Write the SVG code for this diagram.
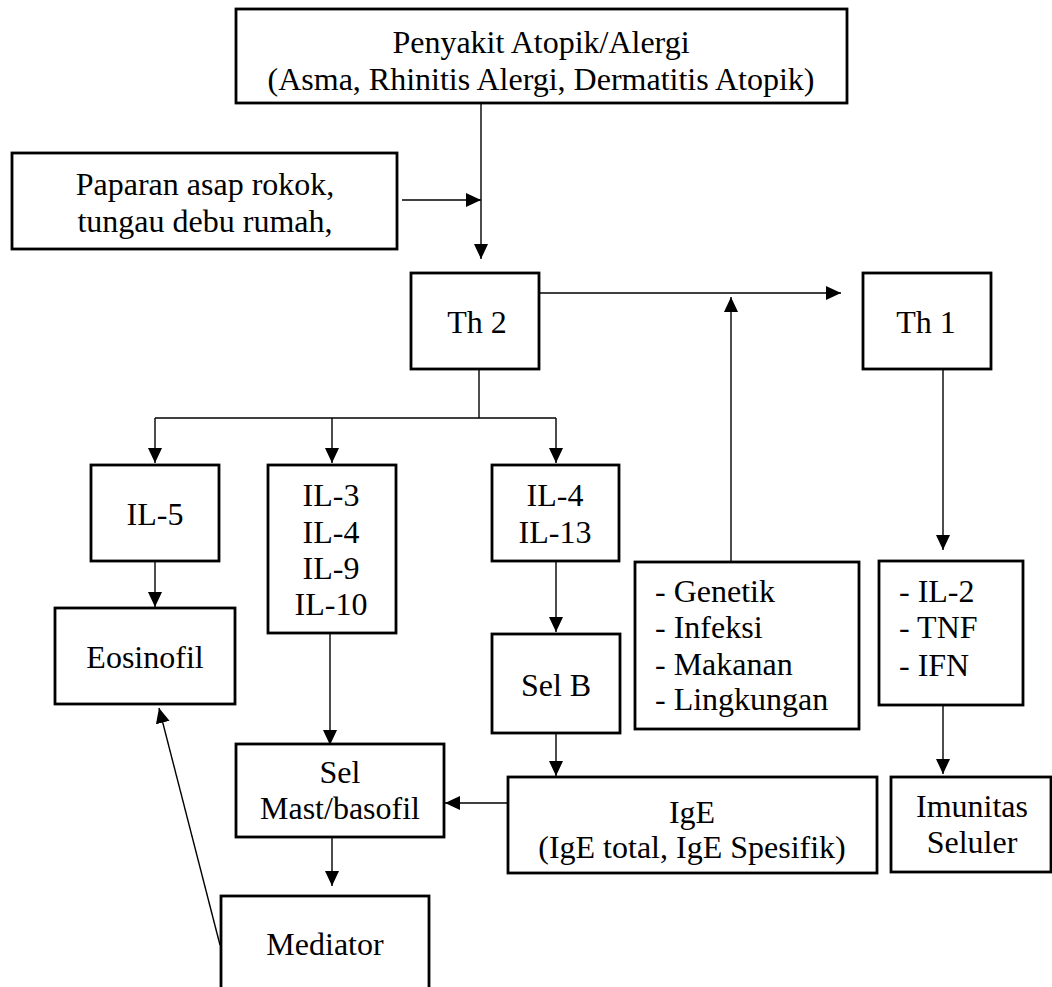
<svg xmlns="http://www.w3.org/2000/svg" width="1052" height="987" viewBox="0 0 1052 987">
<style>
.box{fill:#fff;stroke:#000;stroke-width:2.8}
.t{font-family:"Liberation Serif","Times New Roman",serif;font-size:32px;fill:#000;text-anchor:middle}
.l{font-family:"Liberation Serif","Times New Roman",serif;font-size:32px;fill:#000;text-anchor:start}
.c{fill:none;stroke:#000;stroke-width:1.4}
</style>
<defs>
<marker id="ah" markerUnits="userSpaceOnUse" markerWidth="16" markerHeight="15" refX="15" refY="7" orient="auto">
<path d="M0,0 L15,7 L0,14 z" fill="#000"/>
</marker>
</defs>
<rect width="1052" height="987" fill="#fff"/>
<g id="connectors">
<line class="c" x1="481" y1="103" x2="481" y2="259" marker-end="url(#ah)"/>
<line class="c" x1="402" y1="200" x2="481" y2="200" marker-end="url(#ah)"/>
<line class="c" x1="539" y1="293" x2="841" y2="293" marker-end="url(#ah)"/>
<line class="c" x1="731" y1="562" x2="731" y2="297" marker-end="url(#ah)"/>
<polyline class="c" points="479,369 479,418"/>
<line class="c" x1="155" y1="418" x2="556" y2="418"/>
<line class="c" x1="155" y1="418" x2="155" y2="463" marker-end="url(#ah)"/>
<line class="c" x1="332" y1="418" x2="332" y2="463" marker-end="url(#ah)"/>
<line class="c" x1="556" y1="418" x2="556" y2="463" marker-end="url(#ah)"/>
<line class="c" x1="155" y1="561" x2="155" y2="607" marker-end="url(#ah)"/>
<line class="c" x1="330" y1="633" x2="330" y2="745" marker-end="url(#ah)"/>
<line class="c" x1="556" y1="561" x2="556" y2="632" marker-end="url(#ah)"/>
<line class="c" x1="556" y1="733" x2="556" y2="776" marker-end="url(#ah)"/>
<line class="c" x1="508" y1="803" x2="445" y2="803" marker-end="url(#ah)"/>
<line class="c" x1="332" y1="837" x2="332" y2="886" marker-end="url(#ah)"/>
<line class="c" x1="220" y1="945" x2="159" y2="708" marker-end="url(#ah)"/>
<line class="c" x1="943" y1="369" x2="943" y2="550" marker-end="url(#ah)"/>
<line class="c" x1="943" y1="705" x2="943" y2="774" marker-end="url(#ah)"/>
</g>
<g id="penyakit"><rect class="box" x="236" y="9" width="611" height="94"/>
<text class="t" x="541" y="53">Penyakit Atopik/Alergi</text>
<text class="t" x="541" y="90">(Asma, Rhinitis Alergi, Dermatitis Atopik)</text></g>
<g id="paparan"><rect class="box" x="12" y="153" width="385" height="96"/>
<text class="t" x="205" y="195">Paparan asap rokok,</text>
<text class="t" x="205" y="232">tungau debu rumah,</text></g>
<g id="th2"><rect class="box" x="411" y="273" width="128" height="96"/>
<text class="t" x="477" y="333">Th 2</text></g>
<g id="th1"><rect class="box" x="863" y="273" width="128" height="96"/>
<text class="t" x="926" y="333">Th 1</text></g>
<g id="il5"><rect class="box" x="91" y="465" width="128" height="96"/>
<text class="t" x="155" y="525">IL-5</text></g>
<g id="il3"><rect class="box" x="268" y="465" width="128" height="168"/>
<text class="t" x="331" y="506">IL-3</text>
<text class="t" x="331" y="543">IL-4</text>
<text class="t" x="331" y="579">IL-9</text>
<text class="t" x="331" y="615">IL-10</text></g>
<g id="il4"><rect class="box" x="492" y="465" width="127" height="96"/>
<text class="t" x="555" y="506">IL-4</text>
<text class="t" x="555" y="543">IL-13</text></g>
<g id="faktor"><rect class="box" x="635" y="562" width="224" height="167"/>
<text class="l" x="655" y="602">- Genetik</text>
<text class="l" x="655" y="638">- Infeksi</text>
<text class="l" x="655" y="675">- Makanan</text>
<text class="l" x="655" y="710">- Lingkungan</text></g>
<g id="th1sitokin"><rect class="box" x="879" y="561" width="144" height="144"/>
<text class="l" x="899" y="602">- IL-2</text>
<text class="l" x="899" y="638">- TNF</text>
<text class="l" x="899" y="676">- IFN</text></g>
<g id="eosinofil"><rect class="box" x="55" y="608" width="180" height="96"/>
<text class="t" x="145" y="668">Eosinofil</text></g>
<g id="selb"><rect class="box" x="492" y="634" width="128" height="99"/>
<text class="t" x="556" y="696">Sel B</text></g>
<g id="selmast"><rect class="box" x="236" y="744" width="208" height="93"/>
<text class="t" x="340" y="783">Sel</text>
<text class="t" x="340" y="819">Mast/basofil</text></g>
<g id="ige"><rect class="box" x="508" y="777" width="369" height="96"/>
<text class="t" x="692" y="823">IgE</text>
<text class="t" x="692" y="858">(IgE total, IgE Spesifik)</text></g>
<g id="imunitas"><rect class="box" x="891" y="777" width="160" height="95"/>
<text class="t" x="972" y="817">Imunitas</text>
<text class="t" x="972" y="853">Seluler</text></g>
<g id="mediator"><rect class="box" x="221" y="896" width="208" height="110"/>
<text class="t" x="325" y="955">Mediator</text></g>
</svg>
